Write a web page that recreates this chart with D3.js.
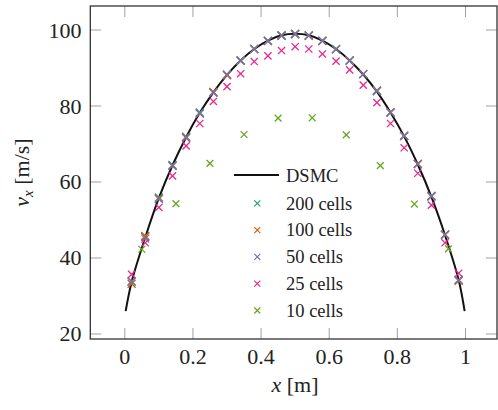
<!DOCTYPE html>
<html>
<head>
<meta charset="utf-8">
<script src="https://cdn.jsdelivr.net/npm/d3@7"></script>
</head>
<body style="margin:0">
<svg id="chart" width="498" height="410"></svg>
<script>
// DSMC reference profile
const dsmcX = [0.0025, 0.02, 0.06, 0.10, 0.14, 0.18, 0.22, 0.26, 0.30, 0.34, 0.38, 0.42, 0.46, 0.50,
  0.54, 0.58, 0.62, 0.66, 0.70, 0.74, 0.78, 0.82, 0.86, 0.90, 0.94, 0.98, 0.9975];
const dsmcV = [26.0, 33.7, 45.4, 55.8, 64.4, 71.8, 78.2, 83.6, 88.2, 92.0, 95.0, 97.2, 98.6, 99.0,
  98.6, 97.2, 95.0, 92.0, 88.3, 83.8, 78.3, 72.0, 64.6, 56.1, 46.0, 34.2, 26.0];

// marker positions (every other cell shown)
const xsFine = [0.02, 0.06, 0.10, 0.14, 0.18, 0.22, 0.26, 0.30, 0.34, 0.38, 0.42, 0.46, 0.50,
  0.54, 0.58, 0.62, 0.66, 0.70, 0.74, 0.78, 0.82, 0.86, 0.90, 0.94, 0.98];
const v200 = [33.8, 45.6, 55.9, 64.5, 71.9, 78.3, 83.6, 88.2, 92.0, 95.0, 97.2, 98.6, 99.0,
  98.6, 97.2, 95.0, 92.0, 88.4, 83.9, 78.3, 72.1, 64.7, 56.2, 46.1, 34.2];
const v100 = [33.2, 45.8, 55.7, 64.3, 71.8, 78.0, 83.7, 88.1, 91.9, 95.0, 97.1, 98.5, 98.9,
  98.5, 97.1, 94.9, 92.0, 88.4, 84.1, 78.4, 72.2, 64.8, 56.3, 46.2, 34.0];
const v50 = [33.8, 45.1, 55.5, 64.2, 71.6, 78.1, 83.5, 88.3, 91.9, 95.0, 97.1, 98.5, 98.9,
  98.5, 97.1, 94.9, 91.9, 88.4, 84.0, 78.3, 72.1, 64.7, 56.3, 46.1, 34.2];
const v25 = [35.7, 44.0, 53.3, 61.6, 69.5, 75.4, 81.2, 85.1, 88.5, 91.7, 93.2, 94.6, 95.6,
  95.0, 93.7, 91.8, 89.5, 85.5, 80.9, 75.4, 69.0, 62.3, 53.9, 44.0, 36.0];
const xs10 = [0.05, 0.15, 0.25, 0.35, 0.45, 0.55, 0.65, 0.75, 0.85, 0.95];
const v10 = [42.3, 54.3, 64.9, 72.5, 76.8, 76.9, 72.4, 64.3, 54.2, 42.4];

const xTicks = [0, 0.2, 0.4, 0.6, 0.8, 1];
const yTicks = [20, 40, 60, 80, 100];

const series = [
  { label: "200 cells", color: "#1b9e77", xs: xsFine, vs: v200, size: 4 },
  { label: "100 cells", color: "#d95f02", xs: xsFine, vs: v100, size: 4 },
  { label: "50 cells", color: "#7570b3", xs: xsFine, vs: v50, size: 4 },
  { label: "25 cells", color: "#e7298a", xs: xsFine, vs: v25, size: 3.6 },
  { label: "10 cells", color: "#66a61e", xs: xs10, vs: v10, size: 3.4 },
];

const serif = "'Liberation Serif', serif";
const svg = d3.select("#chart").style("font-family", serif, "important");
const plotL = 90.3, plotR = 497, plotT = 6, plotB = 339;

const x = d3.scaleLinear().domain([-0.1013, 1.0925]).range([plotL, plotR]);
const y = d3.scaleLinear().domain([18.68, 106.32]).range([plotB, plotT]);

const tickLen = 11;
const tickColor = "#a0a0a0";

// ticks on all four sides, pointing inward
const ticksG = svg.append("g").attr("stroke", tickColor).attr("stroke-width", 1);
xTicks.forEach((t) => {
  ticksG.append("line").attr("x1", x(t)).attr("x2", x(t)).attr("y1", plotB).attr("y2", plotB - tickLen);
  ticksG.append("line").attr("x1", x(t)).attr("x2", x(t)).attr("y1", plotT).attr("y2", plotT + tickLen);
});
yTicks.forEach((t) => {
  ticksG.append("line").attr("x1", plotL).attr("x2", plotL + tickLen).attr("y1", y(t)).attr("y2", y(t));
  ticksG.append("line").attr("x1", plotR).attr("x2", plotR - tickLen).attr("y1", y(t)).attr("y2", y(t));
});

// tick labels
svg.append("g").selectAll("text").data(xTicks).join("text")
  .attr("x", (d) => x(d)).attr("y", 364)
  .style("font-family", serif, "important")
  .attr("text-anchor", "middle").attr("font-size", 22).attr("fill", "#222")
  .text((d) => d3.format("~g")(d));
svg.append("g").selectAll("text").data(yTicks).join("text")
  .attr("x", 81.5).attr("y", (d) => y(d) + 7.5)
  .style("font-family", serif, "important")
  .attr("text-anchor", "end").attr("font-size", 22).attr("fill", "#222")
  .text((d) => d);

// DSMC curve
const line = d3.line()
  .x((d, i) => x(dsmcX[i]))
  .y((d) => y(d))
  .curve(d3.curveCatmullRom.alpha(0.5));
svg.append("path").attr("d", line(dsmcV))
  .attr("fill", "none").attr("stroke", "#111").attr("stroke-width", 2);

// cross markers
const crossPath = (cx, cy, s) => `M${cx - s},${cy - s}L${cx + s},${cy + s}M${cx - s},${cy + s}L${cx + s},${cy - s}`;
series.forEach((s) => {
  svg.append("g").selectAll("path").data(s.vs).join("path")
    .attr("d", (d, i) => crossPath(x(s.xs[i]), y(d), s.size))
    .attr("stroke", s.color).attr("stroke-width", 1.3).attr("fill", "none");
});

// frame
svg.append("rect")
  .attr("x", plotL).attr("y", plotT).attr("width", plotR - plotL).attr("height", plotB - plotT)
  .attr("fill", "none").attr("stroke", "#333").attr("stroke-width", 1.3);

// legend
const lg = svg.append("g");
lg.append("line").attr("x1", 234).attr("x2", 279).attr("y1", 175).attr("y2", 175)
  .attr("stroke", "#111").attr("stroke-width", 2);
lg.append("text").attr("x", 286).attr("y", 181.5).style("font-family", serif, "important")
  .attr("font-size", 18.5).attr("fill", "#222").text("DSMC");
series.forEach((s, i) => {
  const cy = 203.3 + i * 26.8;
  lg.append("path").attr("d", crossPath(257.3, cy, 3))
    .attr("stroke", s.color).attr("stroke-width", 1.2).attr("fill", "none");
  lg.append("text").attr("x", 286).attr("y", cy + 6.3).style("font-family", serif, "important")
    .attr("font-size", 18.5).attr("fill", "#222").text(s.label);
});

// axis labels
const xl = svg.append("text").attr("x", 295).attr("y", 392).attr("text-anchor", "middle")
  .style("font-family", serif, "important").attr("font-size", 22).attr("fill", "#222");
xl.append("tspan").attr("font-style", "italic").text("x");
xl.append("tspan").text(" [m]");

const yl = svg.append("text").attr("transform", `translate(29,${(plotT + plotB) / 2}) rotate(-90)`)
  .style("font-family", serif, "important")
  .attr("text-anchor", "middle").attr("font-size", 22).attr("fill", "#222");
yl.append("tspan").attr("font-style", "italic").text("v");
yl.append("tspan").attr("font-style", "italic").attr("font-size", 15).attr("dy", 4).text("x");
yl.append("tspan").attr("dy", -4).text(" [m/s]");
</script>
</body>
</html>
